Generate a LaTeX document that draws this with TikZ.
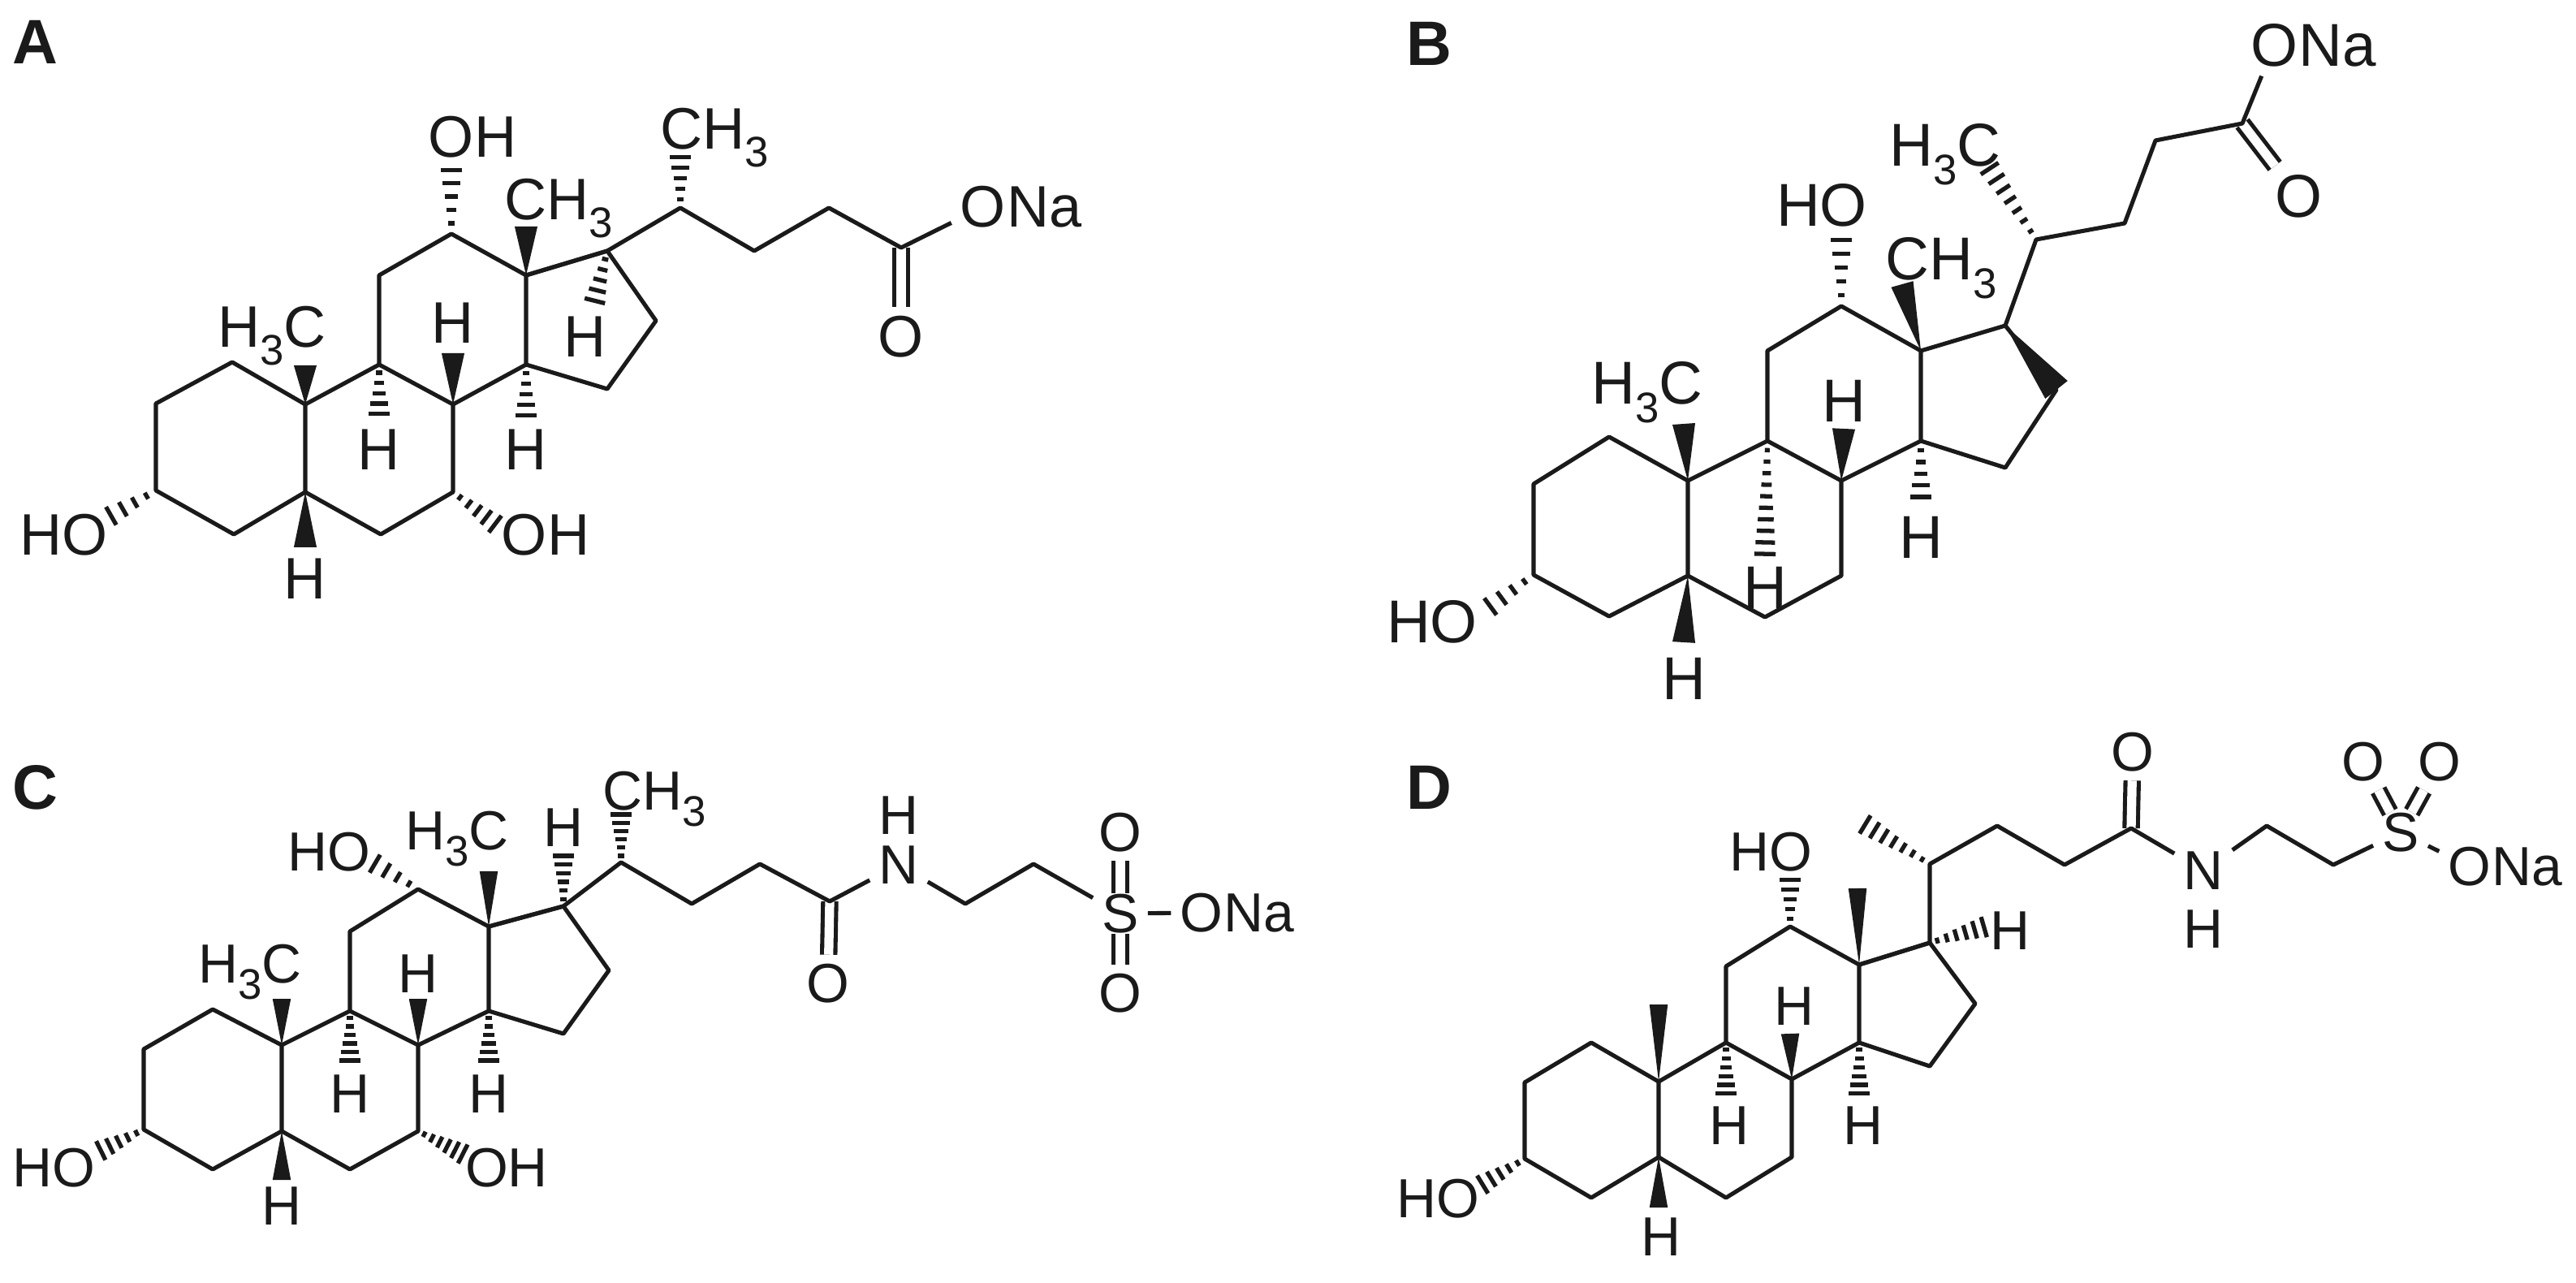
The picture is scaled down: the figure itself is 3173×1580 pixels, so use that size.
\documentclass[tikz,border=0pt]{standalone}
\usepackage{fontspec}
\setmainfont{Liberation Sans}
\usetikzlibrary{calc,positioning}
\definecolor{ink}{HTML}{1A1A1A}
\tikzset{
  bond/.style={draw=ink, line width=1.45pt, line join=round},
  dblbond/.style={bond, double, double distance=3.2pt},
  atom/.style={text=ink, inner sep=3pt, font=\fontsize{20.5}{24}\selectfont},
  bigatom/.style={atom, font=\fontsize{21.2}{25}\selectfont},
  smallatom/.style={atom, font=\fontsize{19.3}{23}\selectfont},
  sulfur/.style={smallatom, inner xsep=3pt, inner ysep=0pt},
  panel/.style={text=ink, inner sep=0pt, font=\fontsize{22}{24}\selectfont\bfseries},
}
\newcommand{\tre}{\smash{\raisebox{-0.3em}{\fontsize{15}{15}\selectfont 3}}}
% core of four rings, by the prefix of the panel
\newcommand{\ringbonds}[1]{
  \draw[bond] (#1c1) -- (#1c2) -- (#1c3) -- (#1c4) -- (#1c5) -- (#1c10) -- cycle;
  \draw[bond] (#1c5) -- (#1c6) -- (#1c7) -- (#1c8) -- (#1c9) -- (#1c10);
  \draw[bond] (#1c9) -- (#1c11) -- (#1c12) -- (#1c13) -- (#1c14) -- (#1c8);
  \draw[bond] (#1c14) -- (#1c15) -- (#1c16) -- (#1c17) -- (#1c13);
}
\newcommand{\wedgebond}[3][4pt]{
  \fill[ink] (#2) -- ($(#3)!#1!90:(#2)$) -- ($(#3)!#1!-90:(#2)$) -- cycle;
}
\newcommand{\hashbond}[3]{
  \foreach \i in {1,...,#3} {
    \pgfmathsetmacro{\t}{(\i-0.2)/#3}
    \pgfmathsetmacro{\hw}{0.6+\t*3.2}
    \coordinate (hashpt) at ($(#1)!\t!(#2)$);
    \draw[draw=ink, line width=1.5pt] ($(hashpt)!\hw pt!90:(#2)$) -- ($(hashpt)!\hw pt!-90:(#2)$);
  }
}
\begin{document}
\begin{tikzpicture}[x=0.01cm, y=-0.01cm]
  \useasboundingbox (0,0) rectangle (3173,1580);

  % A
  \node[panel] (lblA) at (43,52) {A};
  \foreach \n/\x/\y in {c1/286/446, c2/192/497, c3/192/604, c4/288/658, c5/376/606, c6/469/658,
    c7/558/606, c8/558/498, c9/467/449, c10/376/498, c11/467/339, c12/556/288, c13/648/339,
    c14/648/449, c15/748/479, c16/808/395, c17/748/309, c20/838/256, c22/929/309, c23/1021/256,
    c24/1110/305, e3/134/637, e7/612/647, e12/556/206, e5/376/674, e8/558/435, e9/467/512,
    e10/376/450, e13/648/279, e14/648/514, e17/732/373, e20/838/191}
    \coordinate (a\n) at (\x,\y);
  \ringbonds{a}
  \node[atom] (aOdbl) at (1110,415) {O};
  \node[atom] (aOs) at (1211,255) {O};
  \node[atom, base right=-6pt of aOs] (aNa) {Na};
  \draw[dblbond] (ac24) -- (aOdbl);
  \draw[bond] (ac13) -- (ac17) -- (ac20) -- (ac22) -- (ac23) -- (ac24) -- (aOs);
  \wedgebond{ac10}{ae10}
  \wedgebond{ac8}{ae8}
  \wedgebond{ac13}{ae13}
  \wedgebond{ac5}{ae5}
  \hashbond{ac3}{ae3}{4}
  \hashbond{ac7}{ae7}{5}
  \hashbond{ac12}{ae12}{5}
  \hashbond{ac9}{ae9}{5}
  \hashbond{ac14}{ae14}{5}
  \hashbond{ac17}{ae17}{5}
  \hashbond{ac20}{ae20}{5}
  \node[atom] (aCHa) at (880,159) {CH\tre};
  \node[atom] (aCHb) at (688,246) {CH\tre};
  \node[atom] (aHC) at (335,403) {H\tre C};
  \node[atom] (aOHa) at (582,169) {OH};
  \node[atom] (aOHb) at (672,659) {OH};
  \node[atom] (aHO) at (79,659) {HO};
  \node[atom] (aHa) at (558,398) {H};
  \node[atom] (aHb) at (467,554) {H};
  \node[atom] (aHc) at (648,554) {H};
  \node[atom] (aHd) at (721,415) {H};
  \node[atom] (aHe) at (376,713) {H};

  % B
  \node[panel] (lblB) at (1760,54) {B};
  \foreach \n/\x/\y in {c1/1982/538, c2/1889/596, c3/1889/708, c4/1982/759, c5/2079/709, c6/2174/760,
    c7/2268/709, c8/2268/592, c9/2177/543, c10/2079/592, c11/2177/432, c12/2268/377, c13/2366/432,
    c14/2366/543, c15/2470/576, c16/2533/480, c17/2470/401, c20/2508/295, c22/2617/275, c23/2655/173,
    c24/2762/152, e3/1833/749, e5/2074/791, e8/2271/528, e9/2174/685, e10/2074/522, e12/2268/292,
    e13/2343/350, e14/2366/615, e20/2449/205}
    \coordinate (b\n) at (\x,\y);
  \ringbonds{b}
  \node[bigatom] (bOdbl) at (2831,242) {O};
  \node[bigatom] (bOs) at (2801,56) {O};
  \node[bigatom, base right=-6pt of bOs] (bNa) {Na};
  \draw[dblbond] (bc24) -- (bOdbl);
  \draw[bond] (bc17) -- (bc20) -- (bc22) -- (bc23) -- (bc24) -- (bOs);
  \wedgebond[5pt]{bc17}{bc16}
  \wedgebond{bc10}{be10}
  \wedgebond{bc8}{be8}
  \wedgebond{bc13}{be13}
  \wedgebond{bc5}{be5}
  \hashbond{bc3}{be3}{4}
  \hashbond{bc12}{be12}{5}
  \hashbond{bc9}{be9}{10}
  \hashbond{bc14}{be14}{5}
  \hashbond{bc20}{be20}{7}
  \node[bigatom] (bHCa) at (2396,179) {H\tre C};
  \node[bigatom] (bHCb) at (2029,472) {H\tre C};
  \node[bigatom] (bCH) at (2391,319) {CH\tre};
  \node[bigatom] (bHOa) at (2244,253) {HO};
  \node[bigatom] (bHOb) at (1764,766) {HO};
  \node[bigatom] (bHa) at (2271,494) {H};
  \node[bigatom] (bHb) at (2174,724) {H};
  \node[bigatom] (bHc) at (2366,662) {H};
  \node[bigatom] (bHd) at (2074,836) {H};

  % C
  \node[panel] (lblC) at (43,970) {C};
  \foreach \n/\x/\y in {c1/262/1243, c2/177/1292, c3/177/1391, c4/262/1440, c5/347/1393, c6/431/1440,
    c7/515/1393, c8/515/1287, c9/431/1245, c10/347/1287, c11/431/1147, c12/515/1095, c13/602/1141,
    c14/602/1245, c15/694/1273, c16/750/1195, c17/694/1116, c20/765/1062, c22/852/1113, c23/936/1064,
    c24/1022/1110, c26/1189/1113, c27/1273/1064, e3/122/1418, e5/347/1453, e7/572/1422, e8/515/1230,
    e9/431/1308, e10/347/1230, e12/459/1062, e13/602/1073, e14/602/1308, e17/694/1052, e20/765/1001}
    \coordinate (c\n) at (\x,\y);
  \ringbonds{c}
  \node[smallatom] (cOa) at (1020,1211) {O};
  \node[smallatom, inner ysep=0pt] (cN) at (1107,1065) {N};
  \node[smallatom, inner sep=0pt] (cHn) at (1107,1004) {H};
  \node[sulfur] (cS) at (1380,1125) {S};
  \node[smallatom] (cOb) at (1380,1025) {O};
  \node[smallatom] (cOc) at (1380,1223) {O};
  \node[smallatom] (cOs) at (1480,1124) {O};
  \node[smallatom, base right=-6pt of cOs] (cNa) {Na};
  \draw[dblbond] (cc24) -- (cOa);
  \draw[dblbond] (cS) -- (cOb);
  \draw[dblbond] (cS) -- (cOc);
  \draw[bond] (cc13) -- (cc17) -- (cc20) -- (cc22) -- (cc23) -- (cc24) -- (cN) -- (cc26) -- (cc27) -- (cS) -- (cOs);
  \wedgebond[3.2pt]{cc10}{ce10}
  \wedgebond[3.2pt]{cc8}{ce8}
  \wedgebond[3.2pt]{cc13}{ce13}
  \wedgebond[3.2pt]{cc5}{ce5}
  \hashbond{cc3}{ce3}{5}
  \hashbond{cc7}{ce7}{6}
  \hashbond{cc12}{ce12}{4}
  \hashbond{cc9}{ce9}{6}
  \hashbond{cc14}{ce14}{6}
  \hashbond{cc17}{ce17}{6}
  \hashbond{cc20}{ce20}{6}
  \node[smallatom] (cCH) at (806,974) {CH\tre};
  \node[smallatom] (cHCa) at (563,1023) {H\tre C};
  \node[smallatom] (cHCb) at (308,1187) {H\tre C};
  \node[smallatom] (cHOa) at (405,1049) {HO};
  \node[smallatom] (cHOb) at (66,1438) {HO};
  \node[smallatom] (cOH) at (624,1438) {OH};
  \node[smallatom] (cHa) at (694,1019) {H};
  \node[smallatom] (cHb) at (515,1199) {H};
  \node[smallatom] (cHc) at (431,1347) {H};
  \node[smallatom] (cHd) at (602,1347) {H};
  \node[smallatom] (cHe) at (347,1485) {H};

  % D
  \node[panel] (lblD) at (1760,970) {D};
  \foreach \n/\x/\y in {c1/1960/1284, c2/1878/1333, c3/1878/1427, c4/1960/1475, c5/2043/1425, c6/2126/1475,
    c7/2207/1425, c8/2207/1329, c9/2126/1284, c10/2043/1332, c11/2126/1190, c12/2205/1141, c13/2290/1188,
    c14/2290/1284, c15/2377/1313, c16/2433/1236, c17/2377/1161, c20/2377/1064, c21/2295/1014, c22/2460/1017,
    c23/2543/1065, c24/2625/1020, c26/2792/1017, c27/2874/1065, e3/1824/1460, e5/2043/1487, e8/2205/1273,
    e9/2126/1349, e10/2043/1237, e12/2205/1081, e13/2288/1094, e14/2290/1349, e17/2446/1141}
    \coordinate (d\n) at (\x,\y);
  \ringbonds{d}
  \node[smallatom] (dOa) at (2627,926) {O};
  \node[smallatom] (dN) at (2714,1072) {N};
  \node[smallatom] (dHn) at (2714,1144) {H};
  \node[sulfur] (dS) at (2957,1025) {S};
  \node[smallatom] (dOb) at (2911,938) {O};
  \node[smallatom] (dOc) at (3005,938) {O};
  \node[smallatom] (dOs) at (3042,1067) {O};
  \node[smallatom, base right=-6pt of dOs] (dNa) {Na};
  \draw[dblbond] (dc24) -- (dOa);
  \draw[dblbond] (dS) -- (dOb);
  \draw[dblbond] (dS) -- (dOc);
  \draw[bond] (dc13) -- (dc17) -- (dc20) -- (dc22) -- (dc23) -- (dc24) -- (dN) -- (dc26) -- (dc27) -- (dS) -- (dOs);
  \wedgebond[3.2pt]{dc10}{de10}
  \wedgebond[3.2pt]{dc8}{de8}
  \wedgebond[3.2pt]{dc13}{de13}
  \wedgebond[3.2pt]{dc5}{de5}
  \hashbond{dc3}{de3}{5}
  \hashbond{dc12}{de12}{5}
  \hashbond{dc9}{de9}{6}
  \hashbond{dc14}{de14}{6}
  \hashbond{dc17}{de17}{6}
  \hashbond{dc20}{dc21}{7}
  \node[smallatom] (dHOa) at (2181,1049) {HO};
  \node[smallatom] (dHOb) at (1771,1476) {HO};
  \node[smallatom] (dHa) at (2476,1146) {H};
  \node[smallatom] (dHb) at (2210,1239) {H};
  \node[smallatom] (dHc) at (2130,1386) {H};
  \node[smallatom] (dHd) at (2295,1386) {H};
  \node[smallatom] (dHe) at (2046,1523) {H};
\end{tikzpicture}
\end{document}
